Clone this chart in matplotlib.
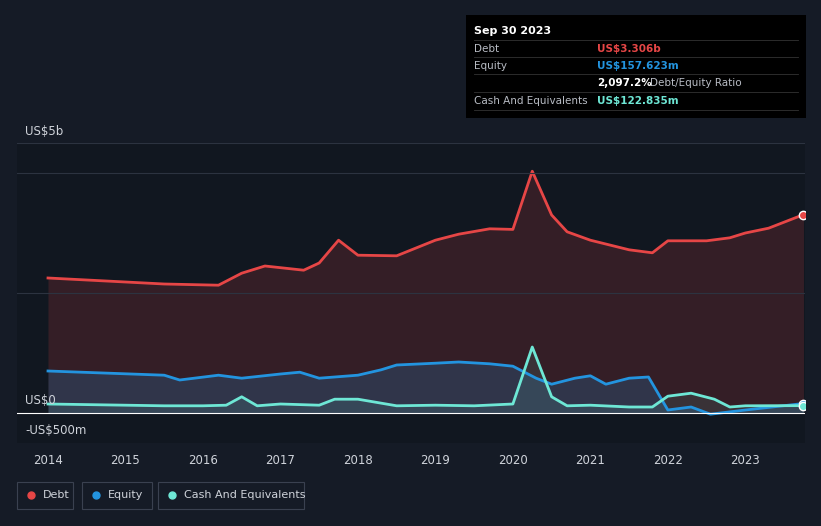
import matplotlib
matplotlib.use("Agg")
import matplotlib.pyplot as plt
import numpy as np

bg = '#151b26'
debt_c, eq_c, cash_c = '#e64646', '#2394df', '#6ee7d5'

debt = [(2014, 2.25), (2015.5, 2.15), (2016.2, 2.13), (2016.5, 2.33), (2016.8, 2.45), (2017.3, 2.38),
        (2017.5, 2.5), (2017.75, 2.88), (2018, 2.63), (2018.5, 2.62), (2019, 2.88), (2019.3, 2.98),
        (2019.7, 3.07), (2020, 3.06), (2020.25, 4.03), (2020.5, 3.3), (2020.7, 3.02), (2021, 2.88),
        (2021.5, 2.72), (2021.8, 2.67), (2022, 2.87), (2022.5, 2.87), (2022.8, 2.92), (2023, 3.0),
        (2023.3, 3.08), (2023.75, 3.306)]
equity = [(2014, 0.7), (2015.5, 0.63), (2015.7, 0.55), (2016.2, 0.63), (2016.5, 0.58), (2017, 0.65),
          (2017.25, 0.68), (2017.5, 0.58), (2018, 0.63), (2018.3, 0.72), (2018.5, 0.8), (2019, 0.83),
          (2019.3, 0.85), (2019.7, 0.82), (2020, 0.78), (2020.3, 0.58), (2020.5, 0.48), (2020.8, 0.58),
          (2021, 0.62), (2021.2, 0.48), (2021.5, 0.58), (2021.75, 0.6), (2022, 0.05), (2022.3, 0.1),
          (2022.55, -0.02), (2023, 0.05), (2023.75, 0.158)]
cash = [(2014, 0.15), (2015.5, 0.12), (2016, 0.12), (2016.3, 0.13), (2016.5, 0.27), (2016.7, 0.12),
        (2017, 0.15), (2017.5, 0.13), (2017.7, 0.23), (2018, 0.23), (2018.5, 0.12), (2019, 0.13),
        (2019.5, 0.12), (2020, 0.15), (2020.25, 1.1), (2020.5, 0.27), (2020.7, 0.12), (2021, 0.13),
        (2021.5, 0.1), (2021.8, 0.1), (2022, 0.28), (2022.3, 0.33), (2022.6, 0.23), (2022.8, 0.1),
        (2023, 0.12), (2023.75, 0.123)]

fig = plt.figure(figsize=(8.21, 5.26), dpi=100, facecolor=bg)
ax = fig.add_axes([17/821, 1-443/526, (805-17)/821, (443-143)/526])
ax.set_facecolor('#111720')

for data, c, a in [(debt, debt_c, 0.17), (equity, eq_c, 0.2), (cash, cash_c, 0.1)]:
    x, y = zip(*data)
    ax.fill_between(x, 0, y, color=c, alpha=a, lw=0)
    ax.plot(x, y, color=c, lw=2)
    ax.plot(x[-1], y[-1], 'o', color=c, ms=6, mec='white', mew=1)

ax.set_xlim(2013.6, 2023.77)
ax.set_ylim(-0.5, 4.5)
for v in [2, 4, 4.5]:
    ax.axhline(v, color='#2c3340', lw=0.8)
ax.axhline(0, color='white', lw=0.8)
for s in ax.spines.values():
    s.set_visible(False)
ax.set_yticks([])
ax.set_xticks(range(2014, 2024))
ax.tick_params(axis='x', colors='#cfd3da', labelsize=8.5, length=0, pad=8)

fig.text(25/821, 1-132/526, 'US$5b', color='#cfd3da', fontsize=8.5, va='center')
fig.text(25/821, 1-401/526, 'US$0', color='#cfd3da', fontsize=8.5, va='center')
fig.text(25/821, 1-431/526, '-US$500m', color='#cfd3da', fontsize=8.5, va='center')

# tooltip box
fig.patches.append(plt.Rectangle((466/821, 1-118/526), 340/821, 103/526, transform=fig.transFigure,
                                 facecolor='black', edgecolor='none'))
fig.text(474/821, 1-31/526, 'Sep 30 2023', color='white', fontsize=8, va='center', weight='bold')
rows = [(49, 'Debt', 'US$3.306b', debt_c), (66, 'Equity', 'US$157.623m', eq_c),
        (101, 'Cash And Equivalents', 'US$122.835m', cash_c)]
for yy, lab, val, c in rows:
    fig.text(474/821, 1-yy/526, lab, color='#b8bcc4', fontsize=7.5, va='center')
    fig.text(597/821, 1-yy/526, val, color=c, fontsize=7.5, va='center', weight='bold')
fig.text(597/821, 1-83/526, '2,097.2%', color='white', fontsize=7.5, va='center', weight='bold')
fig.text(650/821, 1-83/526, 'Debt/Equity Ratio', color='#b8bcc4', fontsize=7.5, va='center')
for yy in [40, 57, 74, 92, 110]:
    fig.lines.append(plt.Line2D([474/821, 798/821], [1-yy/526]*2, transform=fig.transFigure,
                                color='#333', lw=0.6))

# legend
for x0, w, lab, c in [(17, 56, 'Debt', debt_c), (82, 70, 'Equity', eq_c), (158, 146, 'Cash And Equivalents', cash_c)]:
    fig.patches.append(plt.Rectangle((x0/821, 1-509/526), w/821, 27/526, transform=fig.transFigure,
                                     facecolor='none', edgecolor='#3a4150', lw=0.8))
    fig.lines.append(plt.Line2D([(x0+14)/821], [1-495/526], transform=fig.transFigure, marker='o',
                                color=c, ms=5))
    fig.text((x0+26)/821, 1-495/526, lab, color='#cfd3da', fontsize=8, va='center')

fig.savefig('out.png', dpi=100, facecolor=bg)
